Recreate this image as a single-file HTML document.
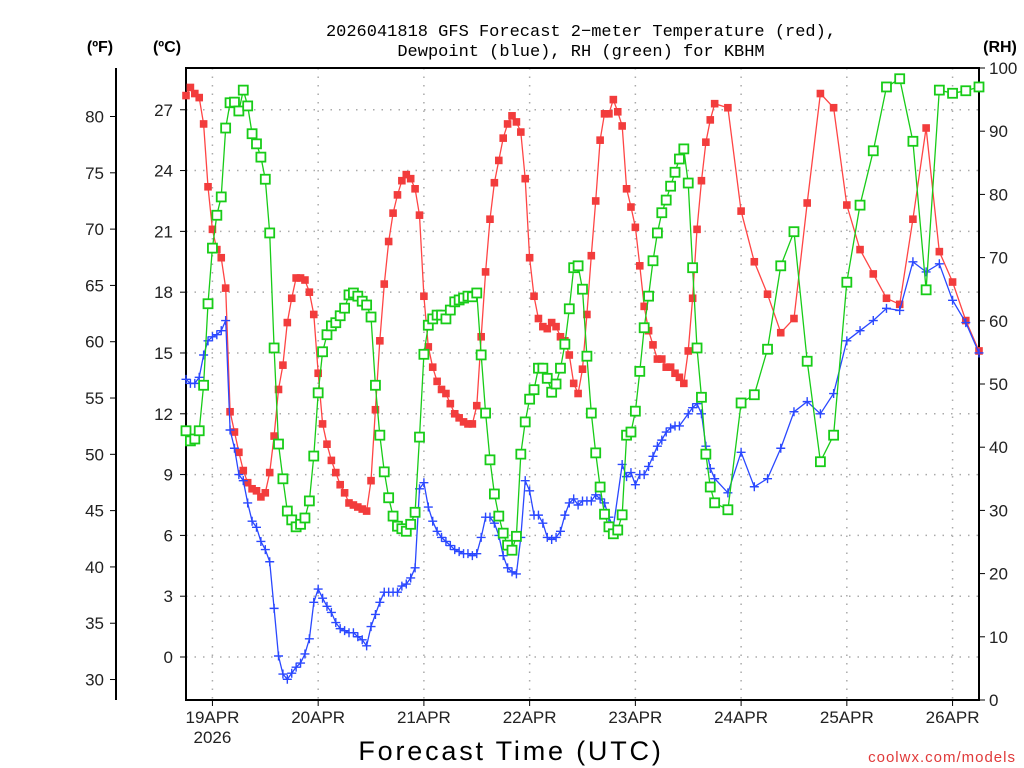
<!DOCTYPE html>
<html><head><meta charset="utf-8"><style>
html,body{margin:0;padding:0;background:#fff;}
svg{display:block;font-family:"Liberation Sans",sans-serif;}
</style></head><body>
<svg id="chart" width="1024" height="768" viewBox="0 0 1024 768" xmlns="http://www.w3.org/2000/svg">
<rect width="1024" height="768" fill="#fff"/>
<g id="grid"></g>
<g id="axes"></g>
<g id="series"></g>
<text x="581" y="36" text-anchor="middle" font-size="17" font-family="Liberation Mono, monospace">2026041818 GFS Forecast 2−meter Temperature (red),</text>
<text x="581" y="56" text-anchor="middle" font-size="17" font-family="Liberation Mono, monospace">Dewpoint (blue), RH (green) for KBHM</text>
<text x="100" y="52" text-anchor="middle" font-size="16" font-weight="bold">(ºF)</text>
<text x="167" y="52" text-anchor="middle" font-size="16" font-weight="bold">(ºC)</text>
<text x="1000" y="52" text-anchor="middle" font-size="16" font-weight="bold">(RH)</text>
<text x="511" y="760" text-anchor="middle" font-size="27" letter-spacing="2.8">Forecast Time (UTC)</text>
<text x="1016" y="762" text-anchor="end" font-size="15" fill="#e03a3a" letter-spacing="1">coolwx.com/models</text>
</svg>
<script>
const hours = [];
for (let h = 0; h <= 120; h++) hours.push(h);
for (let h = 123; h <= 180; h += 3) hours.push(h);

const tempC = [27.7,28.1,27.8,27.6,26.3,23.2,21.1,20.1,19.7,18.2,12.1,11.1,10.1,9.2,8.6,8.3,8.2,7.9,8.1,9.1,10.9,13.2,14.4,16.5,17.7,18.7,18.7,18.6,18.0,16.9,14.0,11.5,10.5,9.7,9.1,8.5,8.1,7.6,7.5,7.4,7.3,7.2,8.7,12.2,15.6,18.4,20.5,21.9,22.8,23.5,23.8,23.6,23.1,21.8,17.8,15.3,14.3,13.6,
13.2,13.0,12.5,12.0,11.8,11.6,11.5,11.5,12.4,15.8,19.0,21.6,23.4,24.5,25.6,26.3,26.7,26.4,25.9,23.6,19.7,17.8,16.7,16.3,16.2,16.5,16.3,15.8,15.6,14.9,13.5,13.0,14.2,16.9,19.8,22.5,25.5,26.8,26.8,27.5,26.9,26.2,23.1,22.2,21.2,
19.3,17.3,16.1,15.4,14.7,14.7,14.3,14.3,14.0,13.8,13.5,15.1,17.7,21.1,23.5,25.4,26.5,27.3,
27.1,22.0,19.5,17.9,16.0,16.7,22.4,27.8,27.1,22.3,20.1,18.9,17.7,17.4,21.6,26.1,20.0,18.5,16.6,15.1];

const dewC = [13.7,13.5,13.5,13.8,14.9,15.6,15.8,15.9,16.1,16.6,11.2,10.3,9.0,8.7,7.6,6.7,6.4,5.7,5.3,4.7,2.4,0.05,-0.84,-1.1,-0.8,-0.5,-0.3,0.15,0.9,2.7,3.35,2.9,2.5,2.2,1.7,1.4,1.3,1.2,1.2,1.0,0.85,0.55,1.5,2.1,2.7,3.2,3.2,3.2,3.2,3.5,3.6,3.9,4.4,8.3,8.6,7.4,6.7,6.2,5.9,5.7,5.5,5.3,5.2,5.1,5.1,5.0,5.1,5.9,6.9,6.9,6.6,6.0,5.0,4.4,4.2,4.1,5.9,8.7,8.2,7.0,7.0,6.6,5.9,5.8,5.9,6.2,7.0,7.6,7.8,7.5,7.7,7.7,7.7,8.0,7.8,7.6,6.9,6.4,null,9.5,8.9,9.1,8.5,9.0,9.0,9.4,9.9,10.4,10.7,11.1,11.3,11.4,11.4,null,12.0,12.3,12.5,12.0,10.4,9.3,8.8,
8.1,10.1,8.4,8.8,10.3,12.1,12.6,12.0,13.0,15.6,16.1,16.6,17.2,17.1,19.5,19.0,19.4,17.6,16.5,15.0];

const rhPct = [42.6,41.0,41.3,42.6,49.8,62.7,71.5,76.7,79.6,90.5,94.5,94.6,93.2,96.5,94.0,89.6,88.0,85.9,82.4,73.9,55.7,40.5,35.0,29.9,28.5,27.4,27.8,28.8,31.5,38.6,48.6,55.1,57.8,59.2,59.7,60.8,62.0,64.1,64.4,63.9,63.1,62.5,60.6,49.8,41.9,36.1,32.0,29.1,27.5,27.1,26.7,27.8,29.7,41.6,54.7,59.3,60.3,60.9,
60.9,60.3,61.7,63.0,63.3,63.6,63.9,63.8,64.4,54.6,45.4,38.0,32.6,29.1,26.4,24.5,23.7,25.9,38.9,44.0,47.6,49.1,52.5,52.5,50.9,48.7,50.0,52.5,56.3,61.9,68.4,68.7,65.0,54.4,45.4,39.1,33.7,29.4,27.4,26.3,26.9,29.3,41.9,42.4,45.7,52.0,58.9,63.9,69.5,73.9,77.1,79.1,81.3,83.5,85.6,87.2,81.8,68.4,55.7,47.9,38.9,33.7,31.2,
30.1,47.0,48.3,55.5,68.7,74.1,53.6,37.7,41.9,66.1,78.3,86.9,97.0,98.3,88.4,64.9,96.5,96.0,96.4,97.0];

const celsiusTicks = [0,3,6,9,12,15,18,21,24,27];
const fahrenheitTicks = [30,35,40,45,50,55,60,65,70,75,80];
const rhTicks = [0,10,20,30,40,50,60,70,80,90,100];
const dayTickHours = [6,30,54,78,102,126,150,174];
const dayTickLabels = ["19APR","20APR","21APR","22APR","23APR","24APR","25APR","26APR"];

const NS = "http://www.w3.org/2000/svg";
const L = 186, R = 979, T = 68, B = 700;
const hMax = 180;
const cMin = -2.121, cMax = 29.06;
function xH(h){ return L + h/hMax*(R-L); }
function yC(c){ return B - (c-cMin)/(cMax-cMin)*(B-T); }
function yF(f){ return yC((f-32)*5/9); }
function yRH(r){ return B - r/100*(B-T); }
function mk(tag, attrs, parent){
  const e = document.createElementNS(NS, tag);
  for (const k in attrs) e.setAttribute(k, attrs[k]);
  parent.appendChild(e); return e;
}
const grid = document.getElementById('grid');
const axes = document.getElementById('axes');
const series = document.getElementById('series');

celsiusTicks.forEach(c => {
  const y = yC(c);
  const g = mk('line',{x1:L,x2:R,y1:y,y2:y,stroke:'#aaa','stroke-width':1.5,'stroke-dasharray':'1.5 7'},grid);
  
  
  const t = mk('line',{x1:L-6,x2:L,y1:y,y2:y,stroke:'#000','stroke-width':1},axes);
  
  
  const tx = mk('text',{x:L-13,y:y+6,'text-anchor':'end','font-size':17,fill:'#222'},axes);
  tx.textContent = c;
  
  
});
dayTickHours.forEach((h,i) => {
  const x = xH(h);
  const g = mk('line',{x1:x,x2:x,y1:T,y2:B,stroke:'#aaa','stroke-width':1.5,'stroke-dasharray':'1.5 7'},grid);
  
  
  const t = mk('line',{x1:x,x2:x,y1:B,y2:B+6,stroke:'#000','stroke-width':1},axes);
  
  
  const tx = mk('text',{x:x,y:723,'text-anchor':'middle','font-size':17,fill:'#222'},axes);
  tx.textContent = dayTickLabels[i];
  
  
});
const yr = mk('text',{x:xH(dayTickHours[0]),y:743,'text-anchor':'middle','font-size':17,fill:'#222'},axes);
yr.textContent = '2026';



const fax = mk('line',{x1:116,x2:116,y1:T,y2:B,stroke:'#000','stroke-width':2},axes);


fahrenheitTicks.forEach(f => {
  const y = yF(f);
  const t = mk('line',{x1:110,x2:116,y1:y,y2:y,stroke:'#000','stroke-width':1},axes);
  
  
  const tx = mk('text',{x:104,y:y+6,'text-anchor':'end','font-size':17,fill:'#222'},axes);
  tx.textContent = f;
  
  
});
rhTicks.forEach(r => {
  const y = yRH(r);
  const t = mk('line',{x1:R,x2:R+6,y1:y,y2:y,stroke:'#000','stroke-width':1},axes);
  
  
  const tx = mk('text',{x:989,y:y+6,'text-anchor':'start','font-size':17,fill:'#222'},axes);
  tx.textContent = r;
  
  
});
const fr = mk('rect',{x:L,y:T,width:R-L,height:B-T,fill:'none',stroke:'#000','stroke-width':2},axes);



function drawSeries(vals, yFn, color, kind, name){
  const g = mk('g',{},series);
  
  
  const pts = [];
  vals.forEach((v,i) => { if (v !== null) pts.push([xH(hours[i]), yFn(v)]); });
  const pl = mk('polyline',{points:pts.map(p=>p[0].toFixed(1)+','+p[1].toFixed(1)).join(' '),fill:'none',stroke:color,'stroke-width':1.3},g);
  
  
  pts.forEach(p => {
    let m;
    if (kind==='fill') {
      m = mk('rect',{x:p[0]-3.8,y:p[1]-3.8,width:7.6,height:7.6,fill:'#f23c3c'},g);
    } else if (kind==='hollow') {
      m = mk('rect',{x:p[0]-4.5,y:p[1]-4.5,width:9,height:9,fill:'#fff',stroke:'#18cc18','stroke-width':1.8},g);
    } else {
      m = mk('path',{d:`M${p[0]-4.5},${p[1]}h9M${p[0]},${p[1]-4.5}v9`,stroke:'#2a48ff','stroke-width':1.4,fill:'none'},g);
    }
    
    
  });
}
drawSeries(tempC, yC, '#ff4545', 'fill', 'temperature-series');
drawSeries(dewC, yC, '#2a48ff', 'plus', 'dewpoint-series');
drawSeries(rhPct, yRH, '#18cc18', 'hollow', 'rh-series');
</script>
</body></html>
